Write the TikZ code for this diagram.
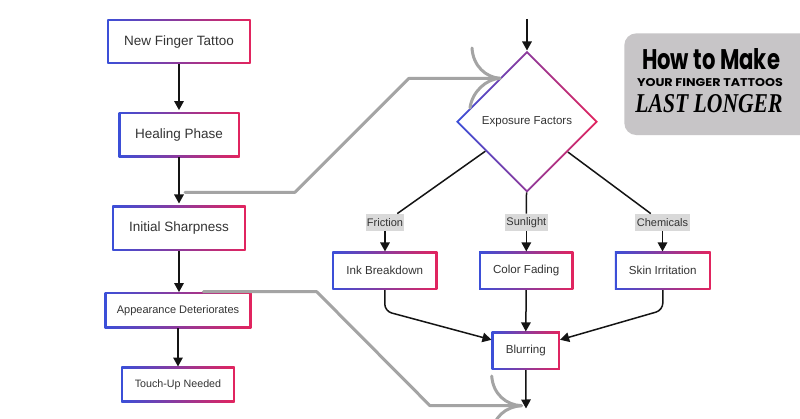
\documentclass[tikz,border=0pt]{standalone}
\usepackage{graphicx}
\usepackage{fontspec}
\setmainfont{Liberation Sans}
\newfontfamily\popfont{Poppins}
\newfontfamily\serfont{Liberation Serif}
\usetikzlibrary{arrows.meta,shapes.geometric}
\definecolor{gblue}{HTML}{3B4FD8}
\definecolor{gred}{HTML}{E2245E}
\definecolor{txt}{HTML}{333333}
\definecolor{glin}{HTML}{A4A4A4}
\definecolor{lblbg}{HTML}{D9D9D9}
\definecolor{titlebg}{HTML}{C7C5C7}
\pgfdeclarehorizontalshading{gbr}{100bp}{color(0bp)=(gblue); color(25bp)=(gblue); color(75bp)=(gred); color(100bp)=(gred)}
\newcommand\myfs[1]{\fontsize{#1}{#1}\selectfont}
\begin{document}
\begin{tikzpicture}[x=1pt,y=-1pt,
  gbox/.style={rectangle, inner sep=0pt, text=txt, path picture={
     \shade[shading=gbr] (path picture bounding box.south west) rectangle (path picture bounding box.north east);
     \fill[white] ([shift={(2pt,2pt)}]path picture bounding box.south west) rectangle ([shift={(-2pt,-2pt)}]path picture bounding box.north east);}},
  gdiam/.style={diamond, inner sep=0pt, text=txt, path picture={
     \shade[shading=gbr] (path picture bounding box.south west) rectangle (path picture bounding box.north east);
     \fill[white] ([xshift=2.8pt]path picture bounding box.west) -- ([yshift=-2.8pt]path picture bounding box.north) -- ([xshift=-2.8pt]path picture bounding box.east) -- ([yshift=2.8pt]path picture bounding box.south) -- cycle;}},
  lbl/.style={fill=lblbg, text=txt, inner sep=1.2pt, minimum height=17pt, font=\myfs{11pt}},
  arr/.style={-{Triangle[length=9pt,width=9.5pt]}, line width=1.5pt, draw=black!92},
  ln/.style={line width=1.5pt, draw=black!92},
  gline/.style={line width=3pt, draw=glin, line cap=round, line join=round}
]
\clip (0,0) rectangle (800,419);
\fill[white] (0,0) rectangle (800,419);

% left column
\node[gbox, minimum width=143.4pt, minimum height=44.7pt, font=\myfs{13.5pt}] (nft) at (179,41.6) {New Finger Tattoo};
\node[gbox, minimum width=121pt, minimum height=45pt, font=\myfs{13.5pt}] (heal) at (179,134.8) {Healing Phase};
\node[gbox, minimum width=133.4pt, minimum height=45pt, font=\myfs{13.5pt}] (init) at (179,228.2) {Initial Sharpness};
\node[gbox, minimum width=146.7pt, minimum height=36pt, font=\myfs{11pt}] (appear) at (178,310.3) {Appearance Deteriorates};
\node[gbox, minimum width=113.3pt, minimum height=35.6pt, font=\myfs{10.7pt}] (touch) at (178,384.5) {Touch-Up Needed};

% right part
\node[gdiam, minimum width=142pt, minimum height=142pt, font=\myfs{11.5pt}] (expo) at (527,121.7) {Exposure Factors};
\node[lbl, minimum width=38pt] (fric) at (385,222.3) {Friction};
\node[lbl, minimum width=42.7pt] (sun) at (526.3,222.3) {Sunlight};
\node[lbl, minimum width=55pt] (chem) at (662.5,222.3) {Chemicals};
\node[gbox, minimum width=105pt, minimum height=38.3pt, font=\myfs{11.6pt}] (ink) at (384.8,270.8) {Ink Breakdown};
\node[gbox, minimum width=94.3pt, minimum height=38.3pt, font=\myfs{11.6pt}] (color) at (526.2,270.8) {Color Fading};
\node[gbox, minimum width=95.7pt, minimum height=38.3pt, font=\myfs{11.6pt}] (skin) at (662.8,270.8) {Skin Irritation};
\node[gbox, minimum width=68.3pt, minimum height=38.3pt, font=\myfs{11.6pt}] (blur) at (525.8,350.8) {Blurring};

\coordinate (top) at (527,19);
\coordinate (bot) at (526,408.5);

% left arrows
\draw[arr, shorten >=2pt] (nft.south) -- (nft.south |- heal.north);
\draw[arr, shorten >=2pt] (heal.south) -- (heal.south |- init.north);
\draw[arr] (init.south) -- (init.south |- appear.north);
\draw[arr] (appear.south) -- (appear.south |- touch.north);

% right connectors
\draw[arr] (top) -- (expo.north);
\draw[ln] (expo) -- (fric);
\draw[ln] (expo) -- (sun);
\draw[ln] (expo) -- (chem);
\draw[arr] (fric.south) -- (fric.south |- ink.north);
\draw[arr] (sun.south) -- (sun.south |- color.north);
\draw[arr] (chem.south) -- (chem.south |- skin.north);
\draw[arr, rounded corners=7pt] (ink.south) -- ++(0,21) -- ([yshift=11pt]blur.west);
\draw[arr] (color.south) -- (blur.north);
\draw[arr, rounded corners=7pt] (skin.south) -- ++(0,20) -- ([yshift=11pt]blur.east);
\draw[arr] (blur.south) -- (bot);

% gray connectors
\coordinate (g1s) at (185,192.3);
\coordinate (g1b) at (295,192.3);
\coordinate (g1c) at (409,78.3);
\coordinate (g1t) at (500,78.3);
\draw[gline] (g1s) -- (g1b) -- (g1c) -- (g1t);
\draw[gline] (472,48) .. controls (473,66) and (486,77.5) .. (g1t) .. controls (486,79) and (472,92) .. (470,108);

\coordinate (g2s) at (203.3,291.7);
\coordinate (g2b) at (316.7,291.7);
\coordinate (g2c) at (430,405.7);
\coordinate (g2t) at (521.5,405.7);
\draw[gline] (g2s) -- (g2b) -- (g2c) -- (g2t);
\draw[gline] (491.7,376) .. controls (493,394) and (506,405) .. (g2t) .. controls (506,406.5) and (493,417) .. (491.7,435);

% title
\node[fill=titlebg, rounded corners=12pt, minimum width=190pt, minimum height=101.7pt, inner sep=0pt] (title) at (719.3,84.2) {};
\node[text=black, inner sep=0pt] (t1) at (711,59.5) {\resizebox{138pt}{21pt}{\popfont\bfseries How to Make}};
\node[text=black, inner sep=0pt] (t2) at (710,83) {\resizebox{146pt}{8pt}{\popfont\bfseries YOUR FINGER TATTOOS}};
\node[text=black, inner sep=0pt] (t3) at (709,103.5) {\resizebox{147pt}{18pt}{\serfont\bfseries\itshape LAST LONGER}};
\end{tikzpicture}
\end{document}
